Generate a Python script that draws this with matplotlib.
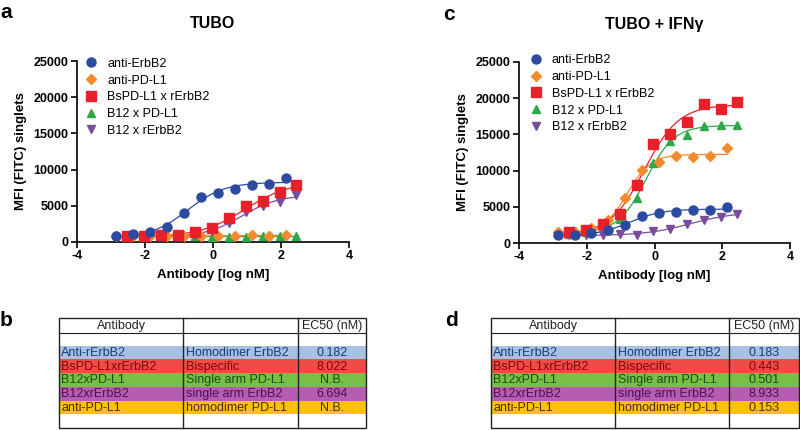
import numpy as np
import matplotlib
matplotlib.use("Agg")
import matplotlib.pyplot as plt
from matplotlib.patches import Rectangle
from matplotlib.lines import Line2D

plt.rcParams['font.family'] = ['Liberation Sans', 'DejaVu Sans']
plt.rcParams['axes.unicode_minus'] = False

# ---------------- data ----------------
x_a = [-2.86, -2.36, -1.86, -1.36, -0.86, -0.36, 0.14, 0.64, 1.14, 1.64, 2.14]
x_b = [-2.53, -2.03, -1.53, -1.03, -0.53, -0.03, 0.47, 0.97, 1.47, 1.97, 2.45]

series_names = ["anti-ErbB2", "anti-PD-L1", "BsPD-L1 x rErbB2", "B12 x PD-L1", "B12 x rErbB2"]

# panel a: TUBO
tubo_anti_erbb2 = [830, 1050, 1330, 2070, 4040, 6160, 6760, 7350, 7810, 8040, 8870]
tubo_anti_pdl1 = [800, 820, 850, 880, 870, 850, 880, 860, 900, 880, 980]
tubo_bs = [870, 870, 900, 960, 1330, 1980, 3260, 4920, 5600, 6940, 7810]
tubo_b12_pdl1 = [760, 760, 780, 780, 760, 740, 750, 740, 760, 760, 780]
tubo_b12_rerbb2 = [780, 790, 800, 830, 950, 1500, 2670, 4140, 4920, 5560, 6480]

# panel c: TUBO + IFNg
ifn_anti_erbb2 = [1100, 1100, 1330, 1800, 2490, 3730, 4100, 4330, 4600, 4560, 4930]
ifn_anti_pdl1 = [1470, 1560, 2100, 3180, 6260, 10100, 11250, 12000, 11850, 12000, 13100]
ifn_bs = [1470, 1800, 2580, 4050, 7960, 13720, 15100, 16760, 19200, 18550, 19520]
ifn_b12_pdl1 = [1300, 1550, 2250, 3270, 6260, 11050, 14090, 14960, 16110, 16250, 16340]
ifn_b12_rerbb2 = [1060, 1060, 1100, 1200, 1150, 1660, 1980, 2580, 3180, 3550, 3960]

# tables
tab_antibody = ["Anti-rErbB2", "BsPD-L1xrErbB2", "B12xPD-L1", "B12xrErbB2", "anti-PD-L1"]
tab_type = ["Homodimer ErbB2", "Bispecific", "Single arm PD-L1", "single arm ErbB2", "homodimer PD-L1"]
ec50_tubo = ["0.182", "8.022", "N.B.", "6.694", "N.B."]
ec50_ifn = ["0.183", "0.443", "0.501", "8.933", "0.153"]

# ---------------- style ----------------
colors = ["#2b4aa0", "#f28a2e", "#e8202a", "#2ea84a", "#7a4c9e"]
markers = ["o", "D", "s", "^", "v"]
msizes = [6.5, 4.8, 6.5, 6.2, 6.2]
band_colors = ["#a9c0e3", "#ef4b47", "#78c045", "#b75cb3", "#fdbf10"]
text_colors = ["#1d3a7a", "#7a0a0a", "#1a4a1a", "#4a1252", "#4a3000"]


def fit4pl(x, y):
    x = np.asarray(x, float)
    y = np.asarray(y, float)
    best = None
    for lec in np.linspace(-4, 5, 181):
        for h in np.linspace(0.3, 3.0, 55):
            s = 1.0 / (1.0 + 10 ** ((lec - x) * h))
            A = np.vstack([np.ones_like(s), s]).T
            coef, *_ = np.linalg.lstsq(A, y, rcond=None)
            sse = np.sum((A @ coef - y) ** 2)
            if best is None or sse < best[0]:
                best = (sse, lec, h, coef)
    _, lec, h, coef = best
    def f(xx):
        s = 1.0 / (1.0 + 10 ** ((lec - xx) * h))
        return coef[0] + coef[1] * s
    return f


fig = plt.figure(figsize=(8, 4.3), dpi=100)

def make_panel(rect, ys, title, legend_anchor):
    ax = fig.add_axes(rect)
    xs = [x_a, x_a, x_b, x_b, x_b]
    order = [3, 4, 1, 2, 0]
    for i in order:
        f = fit4pl(xs[i], ys[i])
        xx = np.linspace(min(xs[i]), max(xs[i]), 200)
        ax.plot(xx, f(xx), color=colors[i], lw=0.9, zorder=2)
    for i in order:
        ax.plot(xs[i], ys[i], linestyle='none', marker=markers[i], ms=msizes[i],
                color=colors[i], mec=colors[i], zorder=3)
    ax.set_xlim(-4, 4)
    ax.set_ylim(0, 25000)
    ax.set_xticks([-4, -2, 0, 2, 4])
    ax.set_yticks([0, 5000, 10000, 15000, 20000, 25000])
    for s in ['top', 'right']:
        ax.spines[s].set_visible(False)
    for s in ['left', 'bottom']:
        ax.spines[s].set_linewidth(1.2)
    ax.tick_params(direction='out', length=4, width=1.2, labelsize=9, pad=2)
    for lab in ax.get_xticklabels() + ax.get_yticklabels():
        lab.set_fontweight('bold')
    ax.set_xlabel("Antibody [log nM]", fontsize=9.5, fontweight='bold', labelpad=5)
    ax.set_ylabel("MFI (FITC) singlets", fontsize=9.5, fontweight='bold', labelpad=5)
    ax.set_title(title, fontsize=11.5, fontweight='bold', pad=24)
    handles = [Line2D([], [], linestyle='none', marker=markers[i], ms=msizes[i],
                      color=colors[i]) for i in range(5)]
    ax.legend(handles, series_names, loc='upper left', bbox_to_anchor=legend_anchor,
              frameon=False, fontsize=9, handletextpad=0.8, labelspacing=0.38,
              borderaxespad=0, handlelength=1.0)
    return ax

ax1 = make_panel([77/800, 1 - 242/430, 272/800, 181/430],
                 [tubo_anti_erbb2, tubo_anti_pdl1, tubo_bs, tubo_b12_pdl1, tubo_b12_rerbb2],
                 "TUBO", (0.01, 1.045))
ax2 = make_panel([519/800, 1 - 243/430, 271/800, 181/430],
                 [ifn_anti_erbb2, ifn_anti_pdl1, ifn_bs, ifn_b12_pdl1, ifn_b12_rerbb2],
                 "TUBO + IFN\u03b3", (0.02, 1.07))

# overlay for tables and panel letters (pixel coordinates)
ov = fig.add_axes([0, 0, 1, 1])
ov.set_xlim(0, 800)
ov.set_ylim(430, 0)
ov.axis('off')

for lab, (px, py) in zip("abcd", [(6, 12), (6, 320), (449, 14), (451, 320)]):
    ov.text(px, py, lab, fontsize=15, fontweight='bold', ha='center', va='center')


def draw_table(x0, x1, xc1, xc2, vals):
    top, bottom = 318, 428
    rh = (bottom - top) / 8.0
    for k in range(5):
        y = top + rh * (k + 2)
        ov.add_patch(Rectangle((x0, y), x1 - x0, rh, facecolor=band_colors[k],
                               edgecolor='none', zorder=1))
        yc = y + rh / 2 + 0.5
        ov.text(x0 + 2, yc, tab_antibody[k], color=text_colors[k], fontsize=9,
                va='center', ha='left', zorder=3)
        ov.text(xc1 + 3, yc, tab_type[k], color=text_colors[k], fontsize=9,
                va='center', ha='left', zorder=3)
        ov.text((xc2 + x1) / 2, yc, vals[k], color=text_colors[k], fontsize=9,
                va='center', ha='center', zorder=3)
    ov.add_patch(Rectangle((x0, top), x1 - x0, bottom - top, facecolor='none',
                           edgecolor='#222222', lw=1.0, zorder=4))
    ov.plot([x0, x1], [top + rh + 1, top + rh + 1], color='#222222', lw=0.8, zorder=4)
    for xc in (xc1, xc2):
        ov.plot([xc, xc], [top, bottom], color='#222222', lw=1.0, zorder=4)
    ov.text((x0 + xc1) / 2, top + rh / 2 + 1, "Antibody", fontsize=9,
            ha='center', va='center', color='#222222')
    ov.text((xc2 + x1) / 2, top + rh / 2 + 1, "EC50 (nM)", fontsize=9,
            ha='center', va='center', color='#222222')

draw_table(59, 366, 183, 298, ec50_tubo)
draw_table(491, 799, 615, 729, ec50_ifn)

fig.savefig("out.png", dpi=100)
